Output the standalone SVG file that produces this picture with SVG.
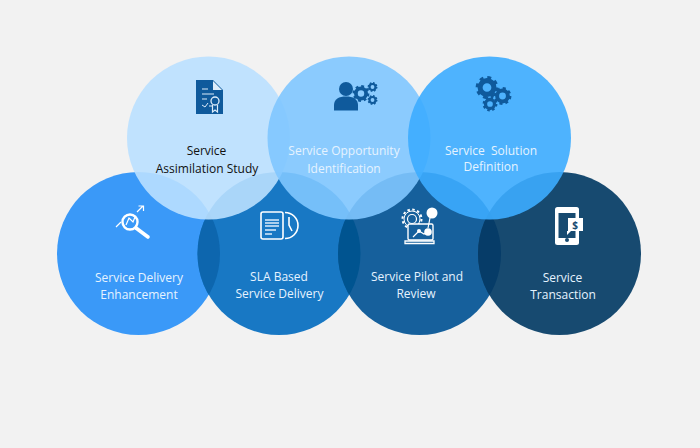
<svg xmlns="http://www.w3.org/2000/svg" width="700" height="448" viewBox="0 0 700 448">
<style>
text{font-family:"Open Sans","Liberation Sans",sans-serif;font-size:12px;text-anchor:middle;fill:#e6f3ff}
.k{fill:#111;font-weight:500}
.dk{fill:#0f5a9c;stroke:none}
.w{fill:none;stroke:#fff;stroke-width:1.6}
.wf{fill:#fff;stroke:none}
</style>
<defs>
<clipPath id="c1"><circle cx="138.500" cy="253.500" r="81.500"/></clipPath>
<clipPath id="c3"><circle cx="419.500" cy="253.500" r="81.500"/></clipPath>
<clipPath id="c4"><circle cx="559.500" cy="253.500" r="81.500"/></clipPath>
<g id="gear"><circle r="8.200" fill="none" stroke="#0f5a9c" stroke-width="3.400" stroke-dasharray="3.200 3.240"/><circle r="6" fill="none" stroke="#0f5a9c" stroke-width="4.400"/></g>
</defs>
<rect width="700" height="448" fill="#f2f2f2"/>

<g id="n-enhancement"><circle cx="138.500" cy="253.500" r="81.500" fill="#3a99f8"/></g>
<g id="n-sla"><circle cx="279" cy="253.500" r="81.500" fill="#1878c4"/></g>
<g id="n-pilot"><circle cx="419.500" cy="253.500" r="81.500" fill="#16609c"/></g>
<g id="n-transaction"><circle cx="559.500" cy="253.500" r="81.500" fill="#174a70"/></g>
<g id="lenses">
<circle cx="279" cy="253.500" r="81.500" fill="#0d66ae" clip-path="url(#c1)"/>
<circle cx="279" cy="253.500" r="81.500" fill="#005490" clip-path="url(#c3)"/>
<circle cx="419.500" cy="253.500" r="81.500" fill="#063c68" clip-path="url(#c4)"/>
</g>

<g id="n-assimilation"><circle cx="208.500" cy="138" r="81.500" fill="#bae0ff" fill-opacity=".9"/></g>
<g id="n-opportunity"><circle cx="349" cy="138" r="81.500" fill="#7fc7ff" fill-opacity=".9"/></g>
<g id="n-solution"><circle cx="489.500" cy="138" r="81.500" fill="#3cacff" fill-opacity=".9"/></g>

<g id="l-assimilation">
<path class="dk" d="M196 80H213L223 90V114H196Z"/>
<path d="M213 81L222 90H213Z" fill="#dcecfa"/>
<path d="M202 89H208M202 94H214M202 99H207M202 105L205 107L208 103M209 106H212" fill="none" stroke="#dcecfa" stroke-width="1"/>
<circle cx="215" cy="101" r="4" fill="none" stroke="#dcecfa" stroke-width="1.300"/>
<path d="M212.500 105V112L215 110L217.500 112V105" fill="none" stroke="#dcecfa" stroke-width="1.200"/>
<text class="k" x="206.500" y="154.500">Service</text>
<text class="k" x="207" y="172.500">Assimilation Study</text>
</g>

<g id="l-opportunity">
<circle class="dk" cx="346" cy="89" r="7"/>
<path class="dk" d="M334 110.500V105C334 99 339 96.500 346 96.500C353 96.500 358 99 358 105V110.500Z"/>
<use href="#gear" transform="translate(361 93.500) scale(.85)"/>
<use href="#gear" transform="translate(372.500 87) scale(.5)"/>
<use href="#gear" transform="translate(372.500 100) scale(.5)"/>
<text x="344" y="155">Service Opportunity</text>
<text x="344" y="172.500">Identification</text>
</g>

<g id="l-solution">
<use href="#gear" transform="translate(487 87.500) scale(1.150)"/>
<use href="#gear" transform="translate(502.500 96) scale(.9)"/>
<use href="#gear" transform="translate(490 104) scale(.75)"/>
<text x="491" y="154.500" xml:space="preserve">Service  Solution</text>
<text x="491" y="170.500">Definition</text>
</g>

<g id="l-enhancement">
<circle class="w" cx="130" cy="222" r="7.500" style="stroke-width:2.400"/>
<path d="M136 228L148 237" fill="none" stroke="#fff" stroke-width="3.600" stroke-linecap="round"/>
<path class="w" d="M116 227L121 222M126 225L129 218L133 222L135 217M137 212L143 206M138.500 206H143.500V211" style="stroke-width:1.200"/>
<text x="139" y="281.500">Service Delivery</text>
<text x="139" y="299">Enhancement</text>
</g>

<g id="l-sla">
<rect class="w" x="261" y="212" width="22" height="27" rx="2"/>
<path d="M265 220H279M265 223H279M265 226H279M265 230H276M265 234H272" fill="none" stroke="#dcecfa" stroke-width="1.300"/>
<path class="w" d="M285 212.500A13 13 0 0 1 285 238.500M289 217V225L292 231"/>
<text x="279" y="281">SLA Based</text>
<text x="279.500" y="297.500">Service Delivery</text>
</g>

<g id="l-pilot">
<circle cx="412" cy="219" r="9.500" fill="none" stroke="#fff" stroke-width="2" stroke-dasharray="2.500 2.470"/>
<circle cx="412" cy="219" r="8" fill="none" stroke="#fff" stroke-width="1"/>
<circle cx="412" cy="219" r="4.500" fill="none" stroke="#fff" stroke-width="1.200"/>
<rect x="408" y="224" width="25" height="16" rx="1.500" fill="#16609c" stroke="#fff" stroke-width="1.400"/>
<path class="w" d="M405 241H434V243.500H405Z" style="stroke-width:1.300"/>
<circle class="wf" cx="432" cy="213" r="5.500"/>
<path class="w" d="M430 218L428 228M413 237L419 231L424 234L428 232" style="stroke-width:1.200"/>
<circle class="wf" cx="428" cy="232" r="3.800"/>
<circle class="wf" cx="419" cy="231" r="2"/>
<text x="417" y="281">Service Pilot and</text>
<text x="416" y="297.500">Review</text>
</g>

<g id="l-transaction">
<rect class="wf" x="555" y="207" width="24" height="38" rx="2.500"/>
<rect x="558.500" y="213" width="17" height="25" fill="#174a70"/>
<path class="wf" d="M568 218H583V231H571L567 235V231H568Z"/>
<circle cx="567" cy="240" r="2" fill="#174a70"/>
<text x="575" y="229" style="font-size:10px;font-weight:700;fill:#174a70">$</text>
<text x="562.500" y="281.500">Service</text>
<text x="563" y="299">Transaction</text>
</g>
</svg>
